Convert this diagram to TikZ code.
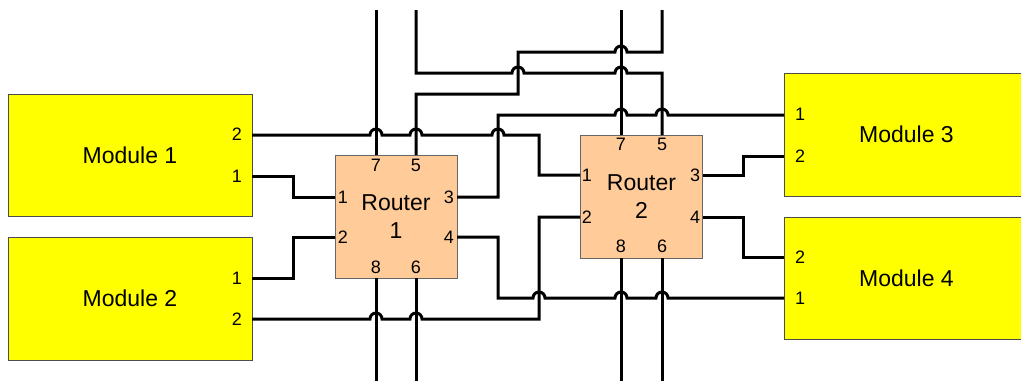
\documentclass[tikz,border=0pt]{standalone}
\usepackage{fontspec}
\setmainfont{Liberation Sans}
\definecolor{routerfill}{HTML}{FFCC99}
\definecolor{modfill}{HTML}{FFFF00}
\begin{document}
\begin{tikzpicture}[x=1pt,y=-1pt,
  wire/.style={line width=3pt, black},
  module/.style={draw=black!70, line width=1pt, fill=modfill, minimum width=244pt, minimum height=122pt, inner sep=0pt, font=\fontsize{23}{27}\selectfont},
  router/.style={draw=black!60, line width=1pt, fill=routerfill, minimum width=122pt, minimum height=123pt, inner sep=0pt, align=center, font=\fontsize{23}{28}\selectfont},
  pin/.style={inner sep=0pt, font=\fontsize{18}{20}\selectfont}]
\def\hop{arc[start angle=180,end angle=360,radius=6]}
\useasboundingbox (0,0) rectangle (1021,381);
% modules
\node[module] (m1) at (130,155) {Module 1};
\node[module, minimum height=123pt] (m2) at (130,298.5) {Module 2};
\node[module, minimum width=245pt, minimum height=123pt] (m3) at (906.5,134.5) {Module 3};
\node[module] (m4) at (906.5,278) {Module 4};
% routers
\node[router] (r1) at (396,216.5) {Router\\1};
\node[router] (r2) at (641.5,196.5) {Router\\2};
% pin coordinates
\coordinate (m1p2) at (252,135);
\coordinate (m1p1) at (252,176);
\coordinate (m2p1) at (252,278);
\coordinate (m2p2) at (252,319);
\coordinate (m3p1) at (784,115);
\coordinate (m3p2) at (784,156);
\coordinate (m4p2) at (784,257);
\coordinate (m4p1) at (784,298);
\coordinate (r1p1) at (335,197);
\coordinate (r1p2) at (335,237);
\coordinate (r1p3) at (457,197);
\coordinate (r1p4) at (457,237);
\coordinate (r1p7) at (376,155);
\coordinate (r1p5) at (416,155);
\coordinate (r1p8) at (376,278);
\coordinate (r1p6) at (416,278);
\coordinate (r2p1) at (580,175);
\coordinate (r2p2) at (580,217);
\coordinate (r2p3) at (703,175);
\coordinate (r2p4) at (703,217);
\coordinate (r2p7) at (621,135);
\coordinate (r2p5) at (662,135);
\coordinate (r2p8) at (621,258);
\coordinate (r2p6) at (662,258);
\coordinate (t1) at (376,10);
\coordinate (t2) at (416,10);
\coordinate (t3) at (621,10);
\coordinate (t4) at (662,10);
\coordinate (b1) at (376,381);
\coordinate (b2) at (416,381);
\coordinate (b3) at (621,381);
\coordinate (b4) at (662,381);
% wires
\draw[wire] (r1p7) -- (t1);
\draw[wire] (r2p7) -- (t3);
\draw[wire] (r1p8) -- (b1);
\draw[wire] (r1p6) -- (b2);
\draw[wire] (r2p8) -- (b3);
\draw[wire] (r2p6) -- (b4);
\draw[wire] (m1p1) -- (293,176) -- (293,197) -- (r1p1);
\draw[wire] (m2p1) -- (293,278) -- (293,237) -- (r1p2);
\draw[wire] (r2p3) -- (743,175) -- (743,156) -- (m3p2);
\draw[wire] (r2p4) -- (743,217) -- (743,257) -- (m4p2);
\draw[wire] (r1p5) -- (416,94) -- (518,94) -- (518,52) -- (615,52) \hop -- (662,52) -- (t4);
\draw[wire] (t2) -- (416,73) -- (512,73) \hop -- (615,73) \hop -- (662,73) -- (r2p5);
\draw[wire] (r1p3) -- (498,197) -- (498,115) -- (615,115) \hop -- (656,115) \hop -- (m3p1);
\draw[wire] (m1p2) -- (370,135) \hop -- (410,135) \hop -- (492,135) \hop -- (539,135) -- (539,175) -- (r2p1);
\draw[wire] (m2p2) -- (370,319) \hop -- (410,319) \hop -- (539,319) -- (539,217) -- (r2p2);
\draw[wire] (r1p4) -- (498,237) -- (498,298) -- (533,298) \hop -- (615,298) \hop -- (656,298) \hop -- (m4p1);
% pin labels
\node[pin] (lm1a) at (237,134) {2};
\node[pin] (lm1b) at (237,176) {1};
\node[pin] (lm2a) at (237,278) {1};
\node[pin] (lm2b) at (237,319) {2};
\node[pin] (lm3a) at (800,114) {1};
\node[pin] (lm3b) at (800,156) {2};
\node[pin] (lm4a) at (800,257) {2};
\node[pin] (lm4b) at (800,298) {1};
\node[pin] (lr1a) at (343,197) {1};
\node[pin] (lr1b) at (343,237) {2};
\node[pin] (lr1c) at (449,197) {3};
\node[pin] (lr1d) at (449,237) {4};
\node[pin] (lr1e) at (376,165) {7};
\node[pin] (lr1f) at (416,165) {5};
\node[pin] (lr1g) at (376,267) {8};
\node[pin] (lr1h) at (416,267) {6};
\node[pin] (lr2a) at (587,175) {1};
\node[pin] (lr2b) at (587,217) {2};
\node[pin] (lr2c) at (695,175) {3};
\node[pin] (lr2d) at (695,217) {4};
\node[pin] (lr2e) at (621,144) {7};
\node[pin] (lr2f) at (662,144) {5};
\node[pin] (lr2g) at (621,246) {8};
\node[pin] (lr2h) at (662,246) {6};
\end{tikzpicture}
\end{document}
